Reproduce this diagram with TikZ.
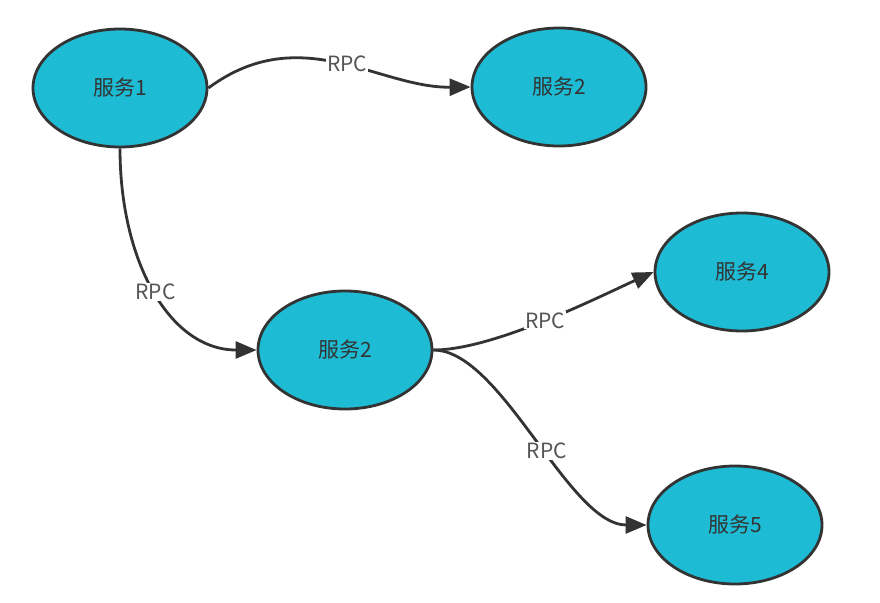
\documentclass[tikz,border=0pt]{standalone}
\usepackage{fontspec}
\setmainfont{Noto Sans CJK SC}
\usepackage{tikz}
\usetikzlibrary{arrows.meta,positioning,shapes.geometric}
\definecolor{svcfill}{HTML}{1EBCD4}
\definecolor{svcline}{HTML}{333333}
\definecolor{rpcgray}{HTML}{555555}
\tikzset{
  svc/.style={ellipse, draw=svcline, line width=2.8pt, fill=svcfill,
    minimum width=174pt, minimum height=118pt, inner sep=0pt,
    text=svcline, font=\fontsize{21}{24}\selectfont},
  call/.style={draw=svcline, line width=2.8pt, -{Triangle[length=21pt,width=17pt]}},
  rpc/.style={fill=white, text=rpcgray, inner sep=1pt, font=\fontsize{21}{24}\selectfont}
}

\begin{document}
\begin{tikzpicture}[x=1pt,y=-1pt]
\useasboundingbox (0,0) rectangle (880,602);
\node[svc] (s1) at (120,88) {服务1};
\node[svc] (s2a) at (559,87) {服务2};
\node[svc] (s2b) at (345,350) {服务2};
\node[svc] (s4) at (742,272) {服务4};
\node[svc] (s5) at (735,525) {服务5};
\draw[call] (s1.east) .. controls +(92,-68) and +(-92,1) .. (s2a.west) node[rpc, pos=0.53] {RPC};
\draw[call] (s1.south) .. controls +(0,113) and +(-87,0) .. (s2b.west) node[rpc, pos=0.5] {RPC};
\draw[call] (s2b.east) .. controls +(60,0) and +(-55,25) .. (s4.west) node[rpc, pos=0.5] {RPC};
\draw[call] (s2b.east) .. controls +(68,0) and +(-78,0) .. (s5.west) node[rpc, pos=0.55] {RPC};
\end{tikzpicture}
\end{document}
